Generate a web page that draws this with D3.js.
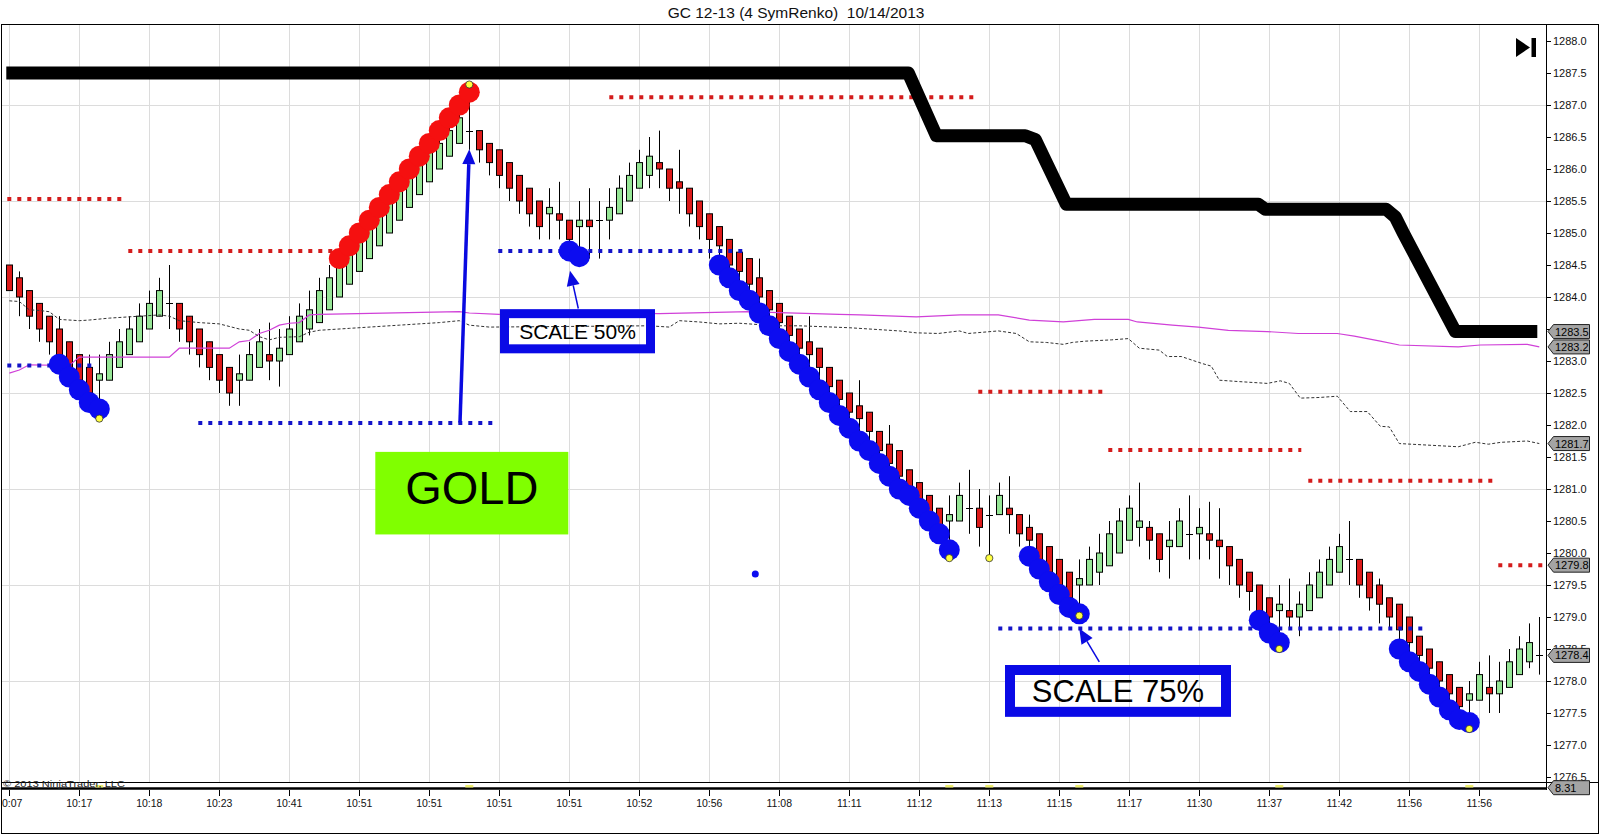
<!DOCTYPE html>
<html><head><meta charset="utf-8">
<script src="https://cdn.jsdelivr.net/npm/d3@7"></script>
<style>
body{margin:0;background:#fff}
svg{display:block}
text{font-family:"Liberation Sans",Arial,sans-serif}
</style>
</head><body>
<svg id="c" width="1600" height="835"></svg>
<script>
// ---------------- DATA ----------------
const title = "GC 12-13 (4 SymRenko)  10/14/2013";
const opens = [1284.5,1284.3,1284.1,1283.9,1283.7,1283.5,1283.3,1283.1,1282.9,1282.7,
1282.7,1282.9,1283.1,1283.3,1283.5,1283.7,1283.9,1283.9,1283.7,1283.5,
1283.3,1283.1,1282.9,1282.7,1282.7,1282.9,1283.1,1283.0,1283.1,1283.3,
1283.5,1283.6,1283.8,1284.0,1284.2,1284.4,1284.6,1284.8,1285.0,1285.2,
1285.4,1285.6,1285.8,1286.0,1286.2,1286.4,1286.6,1286.6,1286.4,1286.3,
1286.1,1285.9,1285.7,1285.5,1285.3,1285.3,1285.2,1285.1,1285.2,1285.2,
1285.2,1285.3,1285.5,1285.7,1285.9,1286.1,1286.0,1285.8,1285.7,1285.5,
1285.3,1285.1,1284.9,1284.7,1284.6,1284.3,1284.1,1283.9,1283.7,1283.5,
1283.3,1283.2,1282.9,1282.7,1282.5,1282.3,1282.2,1281.9,1281.7,1281.6,
1281.3,1281.1,1280.9,1280.7,1280.5,1280.5,1280.7,1280.7,1280.6,1280.6,
1280.7,1280.6,1280.4,1280.3,1280.1,1279.9,1279.7,1279.5,1279.5,1279.7,
1279.8,1280.0,1280.2,1280.4,1280.4,1280.3,1280.1,1280.1,1280.3,1280.3,
1280.3,1280.2,1280.1,1279.9,1279.7,1279.5,1279.3,1279.1,1279.1,1279.0,
1279.1,1279.3,1279.5,1279.7,1279.9,1279.9,1279.7,1279.5,1279.3,1279.2,
1279.0,1278.7,1278.5,1278.3,1278.1,1277.9,1277.7,1277.7,1277.9,1277.8,
1277.9,1278.1,1278.3,1278.4];
const closes = [1284.1,1284.0,1283.7,1283.5,1283.3,1283.1,1282.9,1282.7,1282.5,1282.8,
1283.1,1283.3,1283.5,1283.7,1283.9,1284.1,1283.9,1283.5,1283.3,1283.1,
1282.9,1282.7,1282.5,1282.8,1283.1,1283.3,1283.0,1283.2,1283.5,1283.7,
1283.8,1284.1,1284.3,1284.5,1284.7,1284.9,1285.1,1285.3,1285.5,1285.7,
1285.9,1286.1,1286.3,1286.4,1286.6,1286.8,1286.6,1286.3,1286.1,1285.9,
1285.7,1285.5,1285.3,1285.1,1285.4,1285.2,1284.9,1285.2,1285.1,1285.2,
1285.4,1285.7,1285.9,1286.1,1286.2,1286.0,1285.7,1285.7,1285.3,1285.1,
1284.9,1284.8,1284.5,1284.4,1284.2,1284.0,1283.8,1283.6,1283.4,1283.2,
1283.1,1282.9,1282.6,1282.4,1282.2,1282.1,1281.9,1281.6,1281.4,1281.2,
1281.0,1280.8,1280.6,1280.4,1280.6,1280.9,1280.7,1280.4,1280.6,1280.9,
1280.6,1280.3,1280.2,1279.9,1279.7,1279.5,1279.3,1279.6,1279.9,1280.0,
1280.3,1280.5,1280.7,1280.5,1280.2,1279.9,1280.2,1280.5,1280.3,1280.4,
1280.2,1280.1,1279.8,1279.5,1279.4,1279.1,1279.0,1279.2,1279.0,1279.2,
1279.5,1279.7,1279.9,1280.1,1279.9,1279.5,1279.3,1279.2,1279.0,1278.8,
1278.6,1278.4,1278.2,1278.0,1277.8,1277.6,1277.8,1278.1,1277.8,1278.0,
1278.3,1278.5,1278.6,1278.4];
const highs = [1284.5,1284.4,1284.1,1283.9,1283.7,1283.7,1283.3,1283.1,1283.1,1283.1,
1283.3,1283.5,1283.7,1283.9,1284.1,1284.3,1284.5,1283.9,1283.7,1283.5,
1283.3,1283.1,1282.9,1283.1,1283.3,1283.5,1283.6,1283.5,1283.7,1283.9,
1284.1,1284.3,1284.5,1284.7,1284.9,1285.1,1285.3,1285.5,1285.7,1285.9,
1286.1,1286.3,1286.5,1286.6,1286.8,1287.0,1287.3,1286.6,1286.4,1286.3,
1286.1,1285.9,1285.7,1285.5,1285.7,1285.8,1285.2,1285.5,1285.7,1285.5,
1285.7,1285.9,1286.1,1286.3,1286.5,1286.6,1286.0,1286.3,1285.7,1285.5,
1285.3,1285.1,1284.9,1284.7,1284.6,1284.6,1284.1,1283.9,1283.7,1283.5,
1283.7,1283.2,1282.9,1282.7,1282.5,1282.7,1282.2,1281.9,1282.0,1281.6,
1281.3,1281.1,1280.9,1280.7,1280.9,1281.1,1281.3,1281.0,1280.9,1281.1,
1281.2,1280.6,1280.6,1280.3,1280.1,1279.9,1279.7,1279.9,1280.1,1280.3,
1280.5,1280.7,1280.9,1281.1,1280.5,1280.3,1280.5,1280.7,1280.9,1280.7,
1280.8,1280.7,1280.1,1279.9,1279.7,1279.5,1279.3,1279.5,1279.6,1279.4,
1279.7,1279.9,1280.1,1280.3,1280.5,1279.9,1279.7,1279.6,1279.3,1279.2,
1279.0,1278.7,1278.5,1278.3,1278.1,1277.9,1278.0,1278.3,1278.4,1278.3,
1278.5,1278.7,1278.9,1279.0];
const lows = [1284.1,1283.7,1283.5,1283.3,1283.1,1282.9,1282.7,1282.5,1282.3,1282.1,
1282.7,1282.9,1283.1,1283.3,1283.5,1283.7,1283.5,1283.3,1283.1,1282.9,
1282.7,1282.5,1282.3,1282.3,1282.7,1282.9,1282.7,1282.6,1283.1,1283.3,
1283.4,1283.6,1283.8,1284.0,1284.2,1284.4,1284.6,1284.8,1285.0,1285.2,
1285.4,1285.6,1285.8,1286.0,1286.2,1286.4,1286.3,1286.1,1285.9,1285.7,
1285.5,1285.3,1285.1,1284.9,1284.9,1284.9,1284.7,1284.7,1284.6,1284.6,
1284.9,1285.3,1285.5,1285.7,1285.7,1285.7,1285.5,1285.3,1285.1,1284.9,
1284.6,1284.6,1284.3,1284.2,1284.0,1283.8,1283.6,1283.4,1283.2,1283.0,
1282.9,1282.7,1282.4,1282.2,1282.0,1281.9,1281.7,1281.4,1281.2,1281.0,
1280.8,1280.6,1280.4,1280.2,1279.9,1280.5,1280.3,1280.1,1279.9,1280.6,
1280.3,1280.1,1280.0,1279.7,1279.5,1279.3,1279.1,1279.0,1279.5,1279.5,
1279.8,1280.0,1280.2,1280.1,1279.9,1279.7,1279.6,1280.1,1279.9,1279.9,
1279.9,1279.6,1279.5,1279.3,1279.1,1278.9,1278.8,1278.5,1278.8,1278.7,
1279.1,1279.3,1279.5,1279.7,1279.5,1279.3,1279.1,1278.9,1278.8,1278.6,
1278.4,1278.2,1278.0,1277.8,1277.6,1277.4,1277.3,1277.7,1277.5,1277.5,
1277.9,1278.1,1278.2,1278.1];

const xTickIdx = [0,7,14,21,28,35,42,49,56,63,70,77,84,91,98,105,112,119,126,133,140,147];
const xTickLabels = ["10:07","10:17","10:18","10:23","10:41","10:51","10:51","10:51","10:51","10:52","10:56",
"11:08","11:11","11:12","11:13","11:15","11:17","11:30","11:37","11:42","11:56","11:56"];
const yTickVals = [1276.5,1277.0,1277.5,1278.0,1278.5,1279.0,1279.5,1280.0,1280.5,1281.0,1281.5,1282.0,
1282.5,1283.0,1283.5,1284.0,1284.5,1285.0,1285.5,1286.0,1286.5,1287.0,1287.5,1288.0];
const yGridVals = [1278.0,1279.5,1281.0,1282.5,1284.0,1285.5,1287.0];

// thick black stop line (bar index, price)
const stopIdx = [-0.3,89.9,92.7,101.6,102.6,105.7,124.9,125.6,137.7,138.6,139.4,144.6,152.8];
const stopVal = [1287.5,1287.5,1286.52,1286.52,1286.46,1285.45,1285.45,1285.37,1285.37,1285.25,1285.0,1283.46,1283.46];

// magenta average line
const magIdx = [0,1,2,6,7,16,17,22,23,24,25,26,27,28,29,30,31,45,46,49,60,65,74,83,85.1,90.7,95.1,98.9,102,105.4,108.5,111.9,112.8,116.3,118.9,121.9,125.8,128.9,132.8,134.5,137.1,139,144.9,147.1,151.8,153];
const magVal = [1282.81,1282.86,1282.94,1282.93,1283.06,1283.06,1283.2,1283.2,1283.3,1283.32,1283.43,1283.48,1283.56,1283.59,1283.6,1283.72,1283.73,1283.77,1283.75,1283.73,1283.75,1283.74,1283.77,1283.73,1283.72,1283.69,1283.72,1283.72,1283.64,1283.61,1283.65,1283.65,1283.61,1283.56,1283.53,1283.48,1283.46,1283.43,1283.43,1283.39,1283.31,1283.25,1283.22,1283.25,1283.26,1283.22];

// dashed grey line
const dashIdx = [0,1,2,3,4,5,7,8,10,13,15,16,17,19,21,23,24,25,26,27,29,30,31,34,39,43,45,46,48,64,66,67,69,71,73,76.7,79,84,89,90.7,92.9,95,95.9,98.9,100.7,102,103.7,105.4,106.3,107.6,110.2,111.9,113,115,115.8,117.2,119.3,120.2,121,122.8,125.8,127.1,128,129.1,131,132.8,134.1,135.8,137.1,138,139,144.9,146.6,147.9,149.2,151.8,153];
const dashVal = [1283.94,1283.93,1283.8,1283.79,1283.77,1283.65,1283.63,1283.64,1283.67,1283.7,1283.72,1283.7,1283.63,1283.6,1283.58,1283.5,1283.48,1283.38,1283.33,1283.37,1283.38,1283.45,1283.48,1283.51,1283.56,1283.6,1283.63,1283.56,1283.53,1283.55,1283.53,1283.63,1283.61,1283.58,1283.59,1283.55,1283.55,1283.52,1283.47,1283.44,1283.43,1283.47,1283.43,1283.47,1283.43,1283.3,1283.29,1283.26,1283.29,1283.31,1283.33,1283.35,1283.2,1283.17,1283.07,1283.07,1282.96,1282.92,1282.7,1282.68,1282.65,1282.69,1282.65,1282.42,1282.43,1282.45,1282.21,1282.21,1281.98,1281.97,1281.71,1281.66,1281.73,1281.7,1281.73,1281.75,1281.71];

// dotted level lines
const redLvlStart = [-0.2,11.9,60,96.9,109.9,129.9,148.9];
const redLvlEnd   = [11.3,32.3,96.6,109.3,129.2,148.3,153.4];
const redLvlVal   = [1285.53,1284.72,1287.12,1282.52,1281.61,1281.13,1279.81];
const blueLvlStart = [-0.2,18.9,48.9,98.9];
const blueLvlEnd   = [8.3,48.3,73.3,141.3];
const blueLvlVal   = [1282.93,1282.03,1284.72,1278.82];

// signal dots
const redDotIdx = [33,34,35,36,37,38,39,40,41,42,43,44,45,46];
const redDotVal = [1284.6,1284.8,1285.0,1285.2,1285.4,1285.6,1285.8,1286.0,1286.2,1286.4,1286.6,1286.8,1287.0,1287.2];
const blueDotIdx = [5,6,7,8,9, 56,57,
 71,72,73,74,75,76,77,78,79,80,81,82,83,84,85,86,87,88,89,90,91,92,93,94,
 102,103,104,105,106,107, 125,126,127, 139,140,141,142,143,144,145,146];
const blueDotVal = [1282.95,1282.75,1282.55,1282.35,1282.25, 1284.72,1284.63,
 1284.5,1284.3,1284.1,1283.95,1283.75,1283.55,1283.35,1283.15,1282.95,1282.75,1282.55,1282.35,1282.15,1281.95,1281.75,1281.6,1281.4,1281.2,1281.0,1280.9,1280.7,1280.5,1280.3,1280.05,
 1279.95,1279.75,1279.55,1279.35,1279.15,1279.05, 1278.95,1278.75,1278.6,
 1278.5,1278.3,1278.15,1277.95,1277.75,1277.55,1277.4,1277.35];
const yellowIdx = [9,46,94,98,107,127,146];
const yellowVal = [1282.1,1287.32,1279.92,1279.92,1279.02,1278.5,1277.25];
const strayDot = [74.6,1279.67];

// right-side price markers
const markerVals = [1283.46,1283.22,1281.71,1279.81,1278.4];
const markerLabels = ["1283.5","1283.2","1281.7","1279.8","1278.4"];
const panelValueLabel = "8.31";

// annotations (bar index / price)
const goldBox = {i0:36.6, i1:55.9, p0:1281.58, p1:1280.29, text:"GOLD"};
const scale50 = {i0:49.07, i1:64.57, p0:1283.81, p1:1283.12, text:"SCALE 50%"};
const scale75 = {i0:99.57, i1:122.17, p0:1278.25, p1:1277.44, text:"SCALE 75%"};
const arrows = [
  {from:[45.07,1282.04], to:[46.0,1286.31], w:3.5},
  {from:[56.9,1283.82], to:[56.07,1284.41], w:1.5},
  {from:[109.0,1278.3], to:[107.0,1278.82], w:1.5}
];

// ---------------- DRAW ----------------
const svg = d3.select("#c");
const plotL = 2, plotT = 25, plotR = 1546, plotB = 782;
const x = d3.scaleLinear().domain([0,153]).range([9.3,1539.3]);
const y = d3.scaleLinear().domain([1276.5,1288]).range([777,41]);

svg.append("rect").attr("width",1600).attr("height",835).attr("fill","#fff");

svg.append("defs").append("clipPath").attr("id","clip")
  .append("rect").attr("x",plotL).attr("y",plotT).attr("width",plotR-plotL).attr("height",plotB-plotT);
svg.select("defs").append("clipPath").attr("id","clipAll")
  .append("rect").attr("x",2).attr("y",0).attr("width",1596).attr("height",835);

// title
svg.append("text").attr("x",796).attr("y",18).attr("text-anchor","middle")
  .attr("xml:space","preserve").style("white-space","pre")
  .style("font-size","15.5px").attr("fill","#111").text(title);

const g = svg.append("g").attr("clip-path","url(#clip)");

// grid
g.selectAll(".hg").data(yGridVals).join("line")
  .attr("x1",plotL).attr("x2",plotR).attr("y1",d=>Math.round(y(d))+0.5).attr("y2",d=>Math.round(y(d))+0.5)
  .attr("stroke","#dcdcdc").attr("stroke-width",1);
g.selectAll(".vg").data(xTickIdx).join("line")
  .attr("x1",d=>Math.round(x(d))+0.5).attr("x2",d=>Math.round(x(d))+0.5).attr("y1",plotT).attr("y2",plotB)
  .attr("stroke","#dcdcdc").attr("stroke-width",1);

// candles
const idx = d3.range(opens.length);
const cg = g.append("g");
cg.selectAll(".wick").data(idx).join("line")
  .attr("x1",i=>Math.round(x(i))+0.5).attr("x2",i=>Math.round(x(i))+0.5)
  .attr("y1",i=>y(highs[i])).attr("y2",i=>y(lows[i]))
  .attr("stroke","#000").attr("stroke-width",1);
cg.selectAll(".body").data(idx.filter(i=>Math.abs(opens[i]-closes[i])>0.001)).join("rect")
  .attr("x",i=>Math.round(x(i))-2.5).attr("width",6)
  .attr("y",i=>y(Math.max(opens[i],closes[i])))
  .attr("height",i=>Math.abs(y(opens[i])-y(closes[i])))
  .attr("fill",i=>closes[i]>opens[i]?"#96e696":"#dd1a1a")
  .attr("stroke","#000").attr("stroke-width",1);
cg.selectAll(".doji").data(idx.filter(i=>Math.abs(opens[i]-closes[i])<=0.001)).join("line")
  .attr("x1",i=>Math.round(x(i))-3).attr("x2",i=>Math.round(x(i))+4)
  .attr("y1",i=>Math.round(y(opens[i]))+0.5).attr("y2",i=>Math.round(y(opens[i]))+0.5)
  .attr("stroke","#000").attr("stroke-width",1);

// average lines
const lineGen = d3.line().x(d=>x(d[0])).y(d=>y(d[1]));
g.append("path").datum(magIdx.map((d,k)=>[d,magVal[k]])).attr("d",lineGen)
  .attr("fill","none").attr("stroke","#d040d8").attr("stroke-width",1.2);
g.append("path").datum(dashIdx.map((d,k)=>[d,dashVal[k]])).attr("d",lineGen)
  .attr("fill","none").attr("stroke","#333").attr("stroke-width",1).attr("stroke-dasharray","3,2");

// dotted levels
function levels(starts, ends, vals, color){
  g.selectAll(null).data(vals).join("line")
    .attr("x1",(d,k)=>x(starts[k])).attr("x2",(d,k)=>x(ends[k]))
    .attr("y1",d=>y(d)).attr("y2",d=>y(d))
    .attr("stroke",color).attr("stroke-width",4).attr("stroke-dasharray","4,6");
}
levels(redLvlStart, redLvlEnd, redLvlVal, "#d41c1c");
levels(blueLvlStart, blueLvlEnd, blueLvlVal, "#1414c8");

// signal dots
g.selectAll(".rd").data(redDotIdx).join("circle")
  .attr("cx",(d)=>x(d)).attr("cy",(d,k)=>y(redDotVal[k])).attr("r",10.5).attr("fill","#f51010");
g.selectAll(".bd").data(blueDotIdx).join("circle")
  .attr("cx",(d)=>x(d)).attr("cy",(d,k)=>y(blueDotVal[k])).attr("r",10.5).attr("fill","#0c0cf0");
g.append("circle").attr("cx",x(strayDot[0])).attr("cy",y(strayDot[1])).attr("r",3.5).attr("fill","#0c0cf0");
g.selectAll(".yd").data(yellowIdx).join("circle")
  .attr("cx",d=>x(d)).attr("cy",(d,k)=>y(yellowVal[k])).attr("r",3.6)
  .attr("fill","#ffff40").attr("stroke","#333").attr("stroke-width",0.8);

// stop line
g.append("path").datum(stopIdx.map((d,k)=>[d,stopVal[k]])).attr("d",lineGen)
  .attr("fill","none").attr("stroke","#000").attr("stroke-width",13).attr("stroke-linejoin","round");

// arrows
arrows.forEach(a=>{
  const x1=x(a.from[0]), y1=y(a.from[1]), x2=x(a.to[0]), y2=y(a.to[1]);
  const L=Math.hypot(x2-x1,y2-y1), ux=(x2-x1)/L, uy=(y2-y1)/L;
  const hl=15, hw=6.5;
  const bx=x2-ux*hl, by=y2-uy*hl;
  g.append("line").attr("x1",x1).attr("y1",y1).attr("x2",bx).attr("y2",by)
    .attr("stroke","#0a0ae0").attr("stroke-width",a.w);
  g.append("polygon").attr("points",[[x2,y2],[bx-uy*hw,by+ux*hw],[bx+uy*hw,by-ux*hw]].map(p=>p.join(",")).join(" "))
    .attr("fill","#0a0ae0");
});

// boxes
function box(b, fill, strokeW, fontSize, baselineOff){
  const X0=x(b.i0), X1=x(b.i1), Y0=y(b.p0), Y1=y(b.p1);
  if (strokeW>0){
    g.append("rect").attr("x",X0+strokeW/2).attr("y",Y0+strokeW/2)
      .attr("width",X1-X0-strokeW).attr("height",Y1-Y0-strokeW)
      .attr("fill",fill).attr("stroke","#0a0ae6").attr("stroke-width",strokeW);
  } else {
    g.append("rect").attr("x",X0).attr("y",Y0).attr("width",X1-X0).attr("height",Y1-Y0).attr("fill",fill);
  }
  g.append("text").attr("x",(X0+X1)/2).attr("y",(Y0+Y1)/2+baselineOff)
    .attr("text-anchor","middle").style("font-size",fontSize+"px").attr("fill","#000").text(b.text);
}
box(goldBox, "#80ff00", 0, 47, 11);
box(scale50, "none", 9, 21, 7.5);
box(scale75, "none", 10, 31, 11);

// ▶| icon
svg.append("polygon").attr("points","1516,38 1530,47.5 1516,57").attr("fill","#000");
svg.append("rect").attr("x",1531.5).attr("y",38).attr("width",4.5).attr("height",19).attr("fill","#000");

// frame and axis lines
svg.append("rect").attr("x",1.5).attr("y",24.5).attr("width",1597).attr("height",809)
  .attr("fill","none").attr("stroke","#000").attr("stroke-width",1);
svg.append("line").attr("x1",plotR+0.5).attr("x2",plotR+0.5).attr("y1",25).attr("y2",790)
  .attr("stroke","#000");
svg.append("line").attr("x1",2).attr("x2",1598).attr("y1",782.5).attr("y2",782.5).attr("stroke","#000");
// bottom indicator panel
svg.append("line").attr("x1",2).attr("x2",plotR).attr("y1",788.5).attr("y2",788.5)
  .attr("stroke","#000").attr("stroke-width",2.5);
svg.selectAll(".ym").data(yellowIdx).join("rect")
  .attr("x",d=>x(d)-4).attr("y",785).attr("width",8).attr("height",2.5).attr("fill","#eded70");

// right axis
const ra = svg.append("g");
ra.selectAll("line").data(yTickVals).join("line")
  .attr("x1",plotR).attr("x2",plotR+5).attr("y1",d=>Math.round(y(d))+0.5).attr("y2",d=>Math.round(y(d))+0.5)
  .attr("stroke","#000");
ra.selectAll("text").data(yTickVals).join("text")
  .attr("x",1553).attr("y",d=>y(d)+4).style("font-size","11px").attr("fill","#111")
  .text(d=>d.toFixed(1));

// markers
function marker(yy, label){
  const m = svg.append("g");
  m.append("polygon").attr("points",[[1548,yy],[1553.5,yy-7],[1589.5,yy-7],[1589.5,yy+7],[1553.5,yy+7]].map(p=>p.join(",")).join(" "))
    .attr("fill","#a4a4a4").attr("stroke","#222").attr("stroke-width",1);
  m.append("text").attr("x",1555).attr("y",yy+4).style("font-size","11px").attr("fill","#000").text(label);
}
markerVals.forEach((v,k)=>marker(y(v), markerLabels[k]));
marker(787.7, panelValueLabel);

// x axis
const xa = svg.append("g").attr("clip-path","url(#clipAll)");
xa.selectAll("line").data(xTickIdx).join("line")
  .attr("x1",d=>Math.round(x(d))+0.5).attr("x2",d=>Math.round(x(d))+0.5).attr("y1",790).attr("y2",796)
  .attr("stroke","#000");
xa.selectAll("text").data(xTickIdx).join("text")
  .attr("x",d=>x(d)).attr("y",807).attr("text-anchor","middle").style("font-size","10.5px").attr("fill","#111")
  .text((d,k)=>xTickLabels[k]);

// copyright
svg.append("text").attr("x",3).attr("y",786.5).style("font-size","9px").attr("fill","#222")
  .attr("textLength",122).attr("lengthAdjust","spacingAndGlyphs")
  .text("\u00A9 2013 NinjaTrader, LLC");
</script>
</body></html>
